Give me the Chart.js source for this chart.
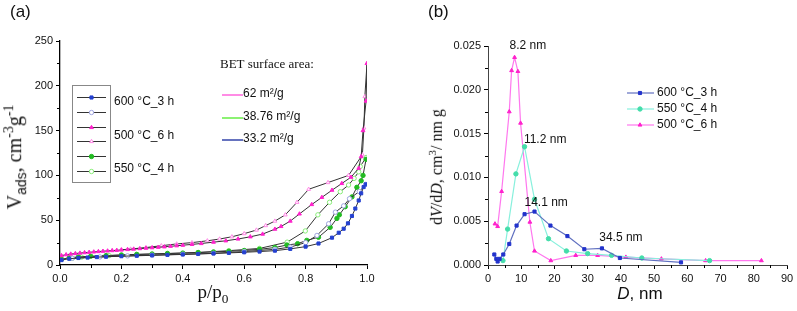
<!DOCTYPE html>
<html>
<head>
<meta charset="utf-8">
<script src="https://cdn.jsdelivr.net/npm/chart.js@4/dist/chart.umd.min.js"></script>
<style>
  body { margin: 0; background: #fff; }
  #wrap { position: relative; width: 797px; height: 311px; overflow: hidden; }
  .pane { position: absolute; top: 0; }
  .txt { position: absolute; white-space: nowrap; color: #111; line-height: 1; }
  .serif { font-family: "Liberation Serif", "DejaVu Serif", serif; }
  .sans { font-family: "Liberation Sans", Arial, sans-serif; }
  sub, sup { font-size: 70%; }
</style>
</head>
<body>
<div id="wrap">
  <div class="pane" style="left:0;width:400px;height:311px"><canvas id="isoChart" width="400" height="311"></canvas></div>
  <div class="pane" style="left:400px;width:397px;height:311px"><canvas id="psdChart" width="397" height="311"></canvas></div>

  <div class="txt sans" style="left:10px;top:3px;font-size:17px">(a)</div>
  <div class="txt sans" style="left:428px;top:3px;font-size:17px">(b)</div>

  <div class="txt serif" style="left:15px;top:157px;font-size:20px;transform:translate(-50%,-50%) rotate(-90deg)">V<sub class="sans">ads</sub>, cm<sup>-3</sup>g<sup>-1</sup></div>
  <div class="txt serif" style="left:213px;top:294px;font-size:19px;transform:translate(-50%,-50%)">p/p<sub>0</sub></div>
  <div class="txt serif" style="left:436px;top:167px;font-size:16px;transform:translate(-50%,-50%) rotate(-90deg)">d<i>V</i>/d<i>D</i>, cm<sup>3</sup>/ nm g</div>
  <div class="txt sans" style="left:640px;top:293px;font-size:17px;transform:translate(-50%,-50%)"><i>D</i>, nm</div>
</div>
<script>
// ---- (a) N2 isotherms ----
var p600Ads = [0.005, 0.03, 0.06, 0.09, 0.12, 0.15, 0.2, 0.25, 0.3, 0.35, 0.4, 0.45, 0.5, 0.55, 0.6, 0.65, 0.7, 0.75, 0.8, 0.842, 0.886, 0.908, 0.924, 0.938, 0.951, 0.962, 0.973, 0.981, 0.989, 0.996];
var v600Ads = [5.5, 7, 7.8, 8.3, 8.8, 9.2, 9.8, 10.3, 10.8, 11.3, 11.8, 12.3, 12.9, 13.5, 14.2, 15, 16, 18, 20.5, 24, 30.5, 36, 40.5, 46.5, 54.7, 63, 72, 80, 87, 90];
var p600Des = [0.996, 0.975, 0.943, 0.924, 0.897, 0.875, 0.837, 0.8, 0.75, 0.7, 0.6, 0.5, 0.4, 0.3, 0.22, 0.13, 0.04];
var v600Des = [90, 82, 74, 66, 59, 46, 33, 25, 20, 17.5, 15, 13, 12, 11, 10.2, 9, 7.5];

var p500Ads = [0.005, 0.02, 0.035, 0.05, 0.065, 0.08, 0.095, 0.11, 0.125, 0.14, 0.155, 0.17, 0.185, 0.2, 0.22, 0.24, 0.26, 0.28, 0.3, 0.32, 0.34, 0.36, 0.38, 0.4, 0.43, 0.46, 0.5, 0.54, 0.58, 0.62, 0.66, 0.7, 0.72, 0.75, 0.78, 0.82, 0.853, 0.886, 0.918, 0.948, 0.973, 0.981, 0.987, 0.997, 1.0];
var v500Ads = [10.5, 11.5, 12.2, 12.8, 13.3, 13.8, 14.2, 14.6, 15.0, 15.4, 15.7, 16.1, 16.4, 16.8, 17.3, 17.8, 18.3, 18.8, 19.3, 19.8, 20.3, 20.9, 21.5, 22.1, 23, 24, 25.5, 27, 29, 31.5, 34.5, 40, 43, 49, 57, 67.5, 75.5, 83.5, 91, 98, 108, 121, 150, 183, 225];
var p500Des = [1.0, 0.993, 0.99, 0.985, 0.94, 0.873, 0.81, 0.772, 0.734, 0.7, 0.67, 0.64, 0.6, 0.56, 0.52, 0.48, 0.43, 0.38, 0.33, 0.28, 0.23, 0.2];
var v500Des = [225, 188, 153, 123, 100, 92, 84.5, 70, 56, 49, 44, 39, 35, 31.5, 29, 27, 25, 23.5, 21.5, 19.5, 17.8, 17];

var p550Ads = [0.005, 0.03, 0.06, 0.1, 0.15, 0.2, 0.25, 0.3, 0.35, 0.4, 0.45, 0.5, 0.55, 0.6, 0.65, 0.7, 0.739, 0.774, 0.804, 0.842, 0.88, 0.902, 0.91, 0.929, 0.951, 0.967, 0.981, 0.987, 0.997];
var v550Ads = [6.5, 8, 9, 9.8, 10.5, 11.2, 11.8, 12.3, 12.8, 13.3, 13.9, 14.6, 15.3, 16.2, 17.5, 19.5, 22.3, 23.8, 27.5, 31, 42, 52, 56, 65, 76, 86.7, 94, 100, 118];
var p550Des = [0.997, 0.978, 0.973, 0.958, 0.94, 0.913, 0.878, 0.84, 0.799, 0.74, 0.65, 0.55, 0.45, 0.35, 0.25, 0.16, 0.07, 0.04];
var v550Des = [120, 110, 104, 96.7, 89.3, 81.8, 70, 56, 38, 25.5, 18.5, 16, 14, 12.8, 11.8, 10.5, 8.8, 7.5];

var betLabels = ["62 m\u00b2/g", "38.76 m\u00b2/g", "33.2 m\u00b2/g"];
var betColors = ["#ff66dd", "#66ee44", "#3344aa"];

// ---- (b) pore size distribution ----
var d600 = [1.9, 2.5, 2.9, 3.5, 4.6, 6.4, 8.6, 11.0, 14.0, 18.8, 23.9, 29.0, 34.3, 39.7, 58.1];
var v600 = [0.0012, 0.0007, 0.0004, 0.0007, 0.0012, 0.0024, 0.0045, 0.0058, 0.0061, 0.0045, 0.0033, 0.0018, 0.0019, 0.0008, 0.0003];
var d550 = [4.5, 5.9, 8.4, 11.0, 14.0, 18.2, 23.6, 30.0, 37.2, 46.3, 66.7];
var v550 = [0.0005, 0.0041, 0.0104, 0.0135, 0.0075, 0.0030, 0.0016, 0.0013, 0.0011, 0.0008, 0.0005];
var d500 = [2.1, 2.9, 4.1, 6.4, 7.1, 8.0, 9.0, 9.8, 12.6, 14.0, 18.9, 26.4, 33.0, 41.5, 52.2, 65.5, 82.3];
var v500 = [0.0047, 0.0044, 0.0084, 0.0175, 0.0222, 0.0237, 0.0221, 0.0162, 0.0049, 0.0016, 0.0005, 0.0011, 0.0011, 0.0009, 0.0007, 0.0005, 0.0005];
var peakLabels = ["8.2 nm", "11.2 nm", "14.1 nm", "34.5 nm"];
var peakX = [12, 17.2, 17.5, 40];
var peakY = [0.025, 0.01427, 0.00708, 0.00308];

function pts(xs, ys) {
    return xs.map(function (x, i) { return {x: x, y: ys[i]}; });
}

var sansFont = "Liberation Sans, Arial, sans-serif";

// short minor ticks between the labelled ones
var minorTicks = {
    id: 'minorTicks',
    afterDraw: function (chart) {
        var ctx = chart.ctx;
        ctx.save();
        ctx.strokeStyle = '#000';
        ctx.lineWidth = 1;
        ['x', 'y'].forEach(function (id) {
            var s = chart.scales[id];
            var step = s.options.minorStep;
            if (!step) return;
            for (var v = s.min + step; v < s.max; v += step * 2) {
                var px = s.getPixelForValue(v);
                ctx.beginPath();
                if (id === 'x') {
                    ctx.moveTo(Math.round(px) + 0.5, s.top);
                    ctx.lineTo(Math.round(px) + 0.5, s.top + 3);
                } else {
                    ctx.moveTo(s.right, Math.round(px) + 0.5);
                    ctx.lineTo(s.right - 3, Math.round(px) + 0.5);
                }
                ctx.stroke();
            }
        });
        ctx.restore();
    }
};

function marker(ctx, ds, x, y) {
    ctx.fillStyle = ds.pointBackgroundColor;
    ctx.strokeStyle = ds.pointBorderColor;
    ctx.lineWidth = 1;
    Chart.helpers.drawPoint(ctx, {pointStyle: ds.pointStyle, radius: ds.pointRadius, borderWidth: 1, rotation: 0}, x, y);
}

// legend box and BET text of panel (a)
var isoLegend = {
    id: 'isoLegend',
    afterDraw: function (chart) {
        var ctx = chart.ctx;
        ctx.save();
        ctx.strokeStyle = '#888';
        ctx.lineWidth = 1;
        ctx.strokeRect(72.5, 85.5, 38, 97);
        var rows = [97, 112, 127, 141, 156, 171];
        chart.data.datasets.forEach(function (ds, i) {
            ctx.strokeStyle = '#333';
            ctx.beginPath();
            ctx.moveTo(77, rows[i] + 0.5);
            ctx.lineTo(106, rows[i] + 0.5);
            ctx.stroke();
            marker(ctx, ds, 91.5, rows[i] + 0.5);
        });
        ctx.fillStyle = '#111';
        ctx.font = '12px ' + sansFont;
        ctx.textBaseline = 'middle';
        ctx.fillText('600 \u00b0C_3 h', 114, 102);
        ctx.fillText('500 \u00b0C_6 h', 114, 136);
        ctx.fillText('550 \u00b0C_4 h', 114, 169);

        ctx.font = '13px Liberation Serif, serif';
        ctx.fillText('BET surface area:', 220, 65);
        var by = [95, 118, 140];
        ctx.font = '12px ' + sansFont;
        betLabels.forEach(function (t, i) {
            ctx.strokeStyle = betColors[i];
            ctx.lineWidth = 1.5;
            ctx.beginPath();
            ctx.moveTo(222, by[i]);
            ctx.lineTo(243, by[i]);
            ctx.stroke();
            ctx.fillStyle = '#111';
            ctx.fillText(t, 243, by[i] - 1);
        });
        ctx.restore();
    }
};

// legend and peak labels of panel (b)
var psdLegend = {
    id: 'psdLegend',
    afterDraw: function (chart) {
        var ctx = chart.ctx;
        ctx.save();
        var rows = [93, 109, 125];
        ctx.font = '12px ' + sansFont;
        ctx.textBaseline = 'middle';
        chart.data.datasets.forEach(function (ds, i) {
            ctx.strokeStyle = ds.borderColor;
            ctx.lineWidth = 1.2;
            ctx.beginPath();
            ctx.moveTo(227, rows[i]);
            ctx.lineTo(254, rows[i]);
            ctx.stroke();
            marker(ctx, ds, 240, rows[i]);
            ctx.fillStyle = '#111';
            ctx.fillText(ds.label, 257, rows[i]);
        });
        var xs = chart.scales.x, ys = chart.scales.y;
        ctx.textAlign = 'center';
        peakLabels.forEach(function (t, i) {
            ctx.fillText(t, xs.getPixelForValue(peakX[i]), ys.getPixelForValue(peakY[i]));
        });
        ctx.restore();
    }
};

function axis(min, max, step, minor, fmt, size) {
    return {
        type: 'linear',
        min: min,
        max: max,
        minorStep: minor,
        ticks: {
            stepSize: step,
            color: '#111',
            padding: 3,
            font: {family: sansFont, size: 11},
            callback: function (v) { return v.toFixed(fmt); }
        },
        grid: {drawOnChartArea: false, tickLength: 4, color: '#000'},
        border: {color: '#000', width: 1.3},
        afterFit: function (s) {
            if (s.isHorizontal()) s.height = size; else s.width = size;
        }
    };
}

function isoSet(label, xs, ys, style, color, open) {
    return {
        label: label,
        data: pts(xs, ys),
        borderColor: '#333',
        borderWidth: 1,
        pointStyle: style,
        pointRadius: 2.2,
        pointBorderWidth: 1,
        pointBorderColor: color,
        pointBackgroundColor: open ? '#fff' : color,
        tension: 0
    };
}

new Chart(document.getElementById('isoChart').getContext('2d'), {
    type: 'line',
    data: {
        datasets: [
            isoSet('600 ads', p600Ads, v600Ads, 'rect', '#2440d0', false),
            isoSet('600 des', p600Des, v600Des, 'circle', '#9fa4e0', true),
            isoSet('500 ads', p500Ads, v500Ads, 'triangle', '#ff22cc', false),
            isoSet('500 des', p500Des, v500Des, 'triangle', '#ff88e6', true),
            isoSet('550 ads', p550Ads, v550Ads, 'circle', '#22bb22', false),
            isoSet('550 des', p550Des, v550Des, 'circle', '#88ee77', true)
        ]
    },
    options: {
        responsive: false,
        animation: false,
        layout: {padding: {left: 0, top: 41, right: 33, bottom: 0}},
        plugins: {legend: {display: false}, tooltip: {enabled: false}},
        scales: {
            x: axis(0, 1, 0.2, 0.1, 1, 46),
            y: axis(0, 250, 50, 25, 0, 60)
        }
    },
    plugins: [minorTicks, isoLegend]
});

function psdSet(label, xs, ys, style, line, color) {
    return {
        label: label,
        data: pts(xs, ys),
        borderColor: line,
        borderWidth: 1.2,
        pointStyle: style,
        pointRadius: 2.2,
        pointBorderWidth: 1,
        pointBorderColor: color,
        pointBackgroundColor: color,
        tension: 0
    };
}

var psdY = axis(0, 0.025, 0.005, 0.0025, 3, 88);
psdY.border.color = '#444';
psdY.border.width = 1;
var psdX = axis(0, 90, 10, 5, 0, 46);
psdX.border.color = '#444';
psdX.border.width = 1;

new Chart(document.getElementById('psdChart').getContext('2d'), {
    type: 'line',
    data: {
        datasets: [
            psdSet('600 \u00b0C_3 h', d600, v600, 'rect', '#6070c0', '#2233cc'),
            psdSet('550 \u00b0C_4 h', d550, v550, 'circle', '#88f0dd', '#44ddaa'),
            psdSet('500 \u00b0C_6 h', d500, v500, 'triangle', '#ff77ee', '#ff22cc')
        ]
    },
    options: {
        responsive: false,
        animation: false,
        layout: {padding: {left: 0, top: 46, right: 10, bottom: 0}},
        plugins: {legend: {display: false}, tooltip: {enabled: false}},
        scales: {x: psdX, y: psdY}
    },
    plugins: [minorTicks, psdLegend]
});
</script>
</body>
</html>
